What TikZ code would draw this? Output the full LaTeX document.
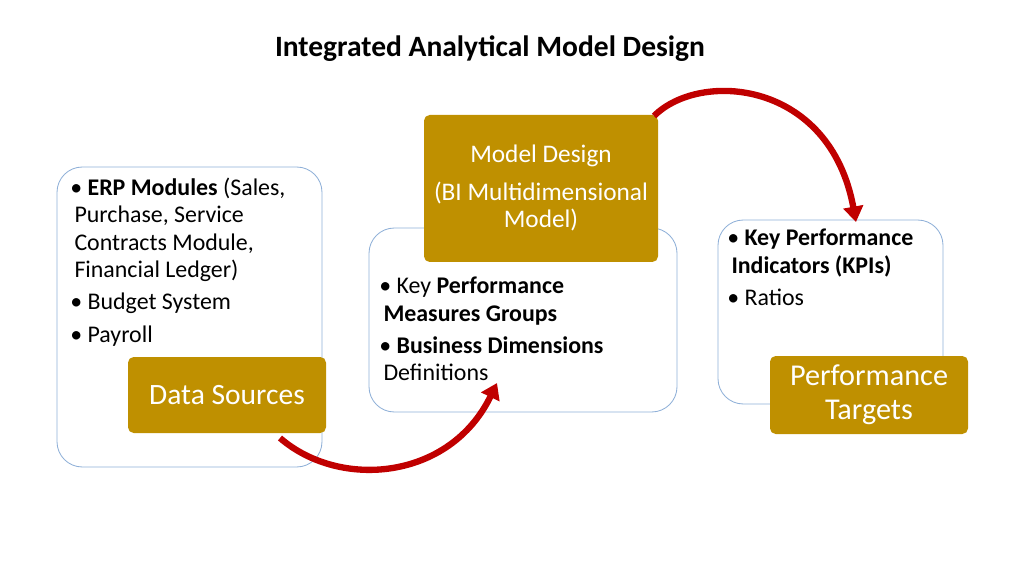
\documentclass[tikz,border=0pt]{standalone}
\usepackage{fontspec}
\setmainfont{Carlito}
\usetikzlibrary{arrows.meta}
\definecolor{gold}{HTML}{BF9000}
\definecolor{edge}{HTML}{8FB0D8}
\definecolor{arr}{HTML}{C00000}
\begin{document}
\begin{tikzpicture}[x=0.025cm,y=-0.025cm]
\tikzset{
  panel/.style={draw=edge,line width=0.6pt,fill=white,rounded corners=18pt},
  body/.style={anchor=north west,align=left,font=\fontsize{17}{19.3}\selectfont,inner sep=0pt},
  flow/.style={arr,line width=4.5pt,-{Triangle[length=11pt,width=14pt]}}
}
\useasboundingbox (0,0) rectangle (1024,576);
\node[font=\bfseries\fontsize{21}{24}\selectfont] (title) at (490,49) {Integrated Analytical Model Design};

% left panel
\draw[panel] (57,167) rectangle (322,467);
\node[body] (ltext) at (70,178) {%
\textbullet\ \textbf{ERP Modules} (Sales,\\
\hspace{3pt}Purchase, Service\\
\hspace{3pt}Contracts Module,\\
\hspace{3pt}Financial Ledger)\\[4pt]
\textbullet\ Budget System\\[4pt]
\textbullet\ Payroll};
\fill[gold,rounded corners=4pt] (128,357) rectangle (326,433);
\node[text=white,font=\fontsize{21}{24}\selectfont] (ds) at (227,395) {Data Sources};

% middle panel
\draw[panel] (369,228) rectangle (677,412);
\fill[gold,rounded corners=4pt] (424,115) rectangle (658,262);
\node[text=white,align=center,font=\fontsize{18}{27}\selectfont] (md) at (541,188) {Model Design\\(BI Multidimensional\\[-8pt]Model)};
\node[body] (mtext) at (379,277) {%
\textbullet\ Key \textbf{Performance}\\
\hspace{3pt}\textbf{Measures Groups}\\[4pt]
\textbullet\ \textbf{Business Dimensions}\\
\hspace{3pt}Definitions};

% right panel
\draw[panel] (718,220) rectangle (943,404);
\node[body] (rtext) at (727,229) {%
\textbullet\ \textbf{Key Performance}\\
\hspace{3pt}\textbf{Indicators (KPIs)}\\[4pt]
\textbullet\ Ratios};
\fill[gold,rounded corners=4pt] (770,356) rectangle (968,434);
\node[text=white,align=center,font=\fontsize{21.5}{24}\selectfont] (pt) at (869,395) {Performance\\Targets};

% arrows
\coordinate (a1) at (280,438);
\coordinate (b1) at (497,383);
\coordinate (a2) at (654,116);
\coordinate (b2) at (856,222);
\draw[flow] (a1) .. controls (340,490) and (450,480) .. (b1);
\draw[flow] (a2) .. controls (700,70) and (830,80) .. (b2);
\end{tikzpicture}
\end{document}
